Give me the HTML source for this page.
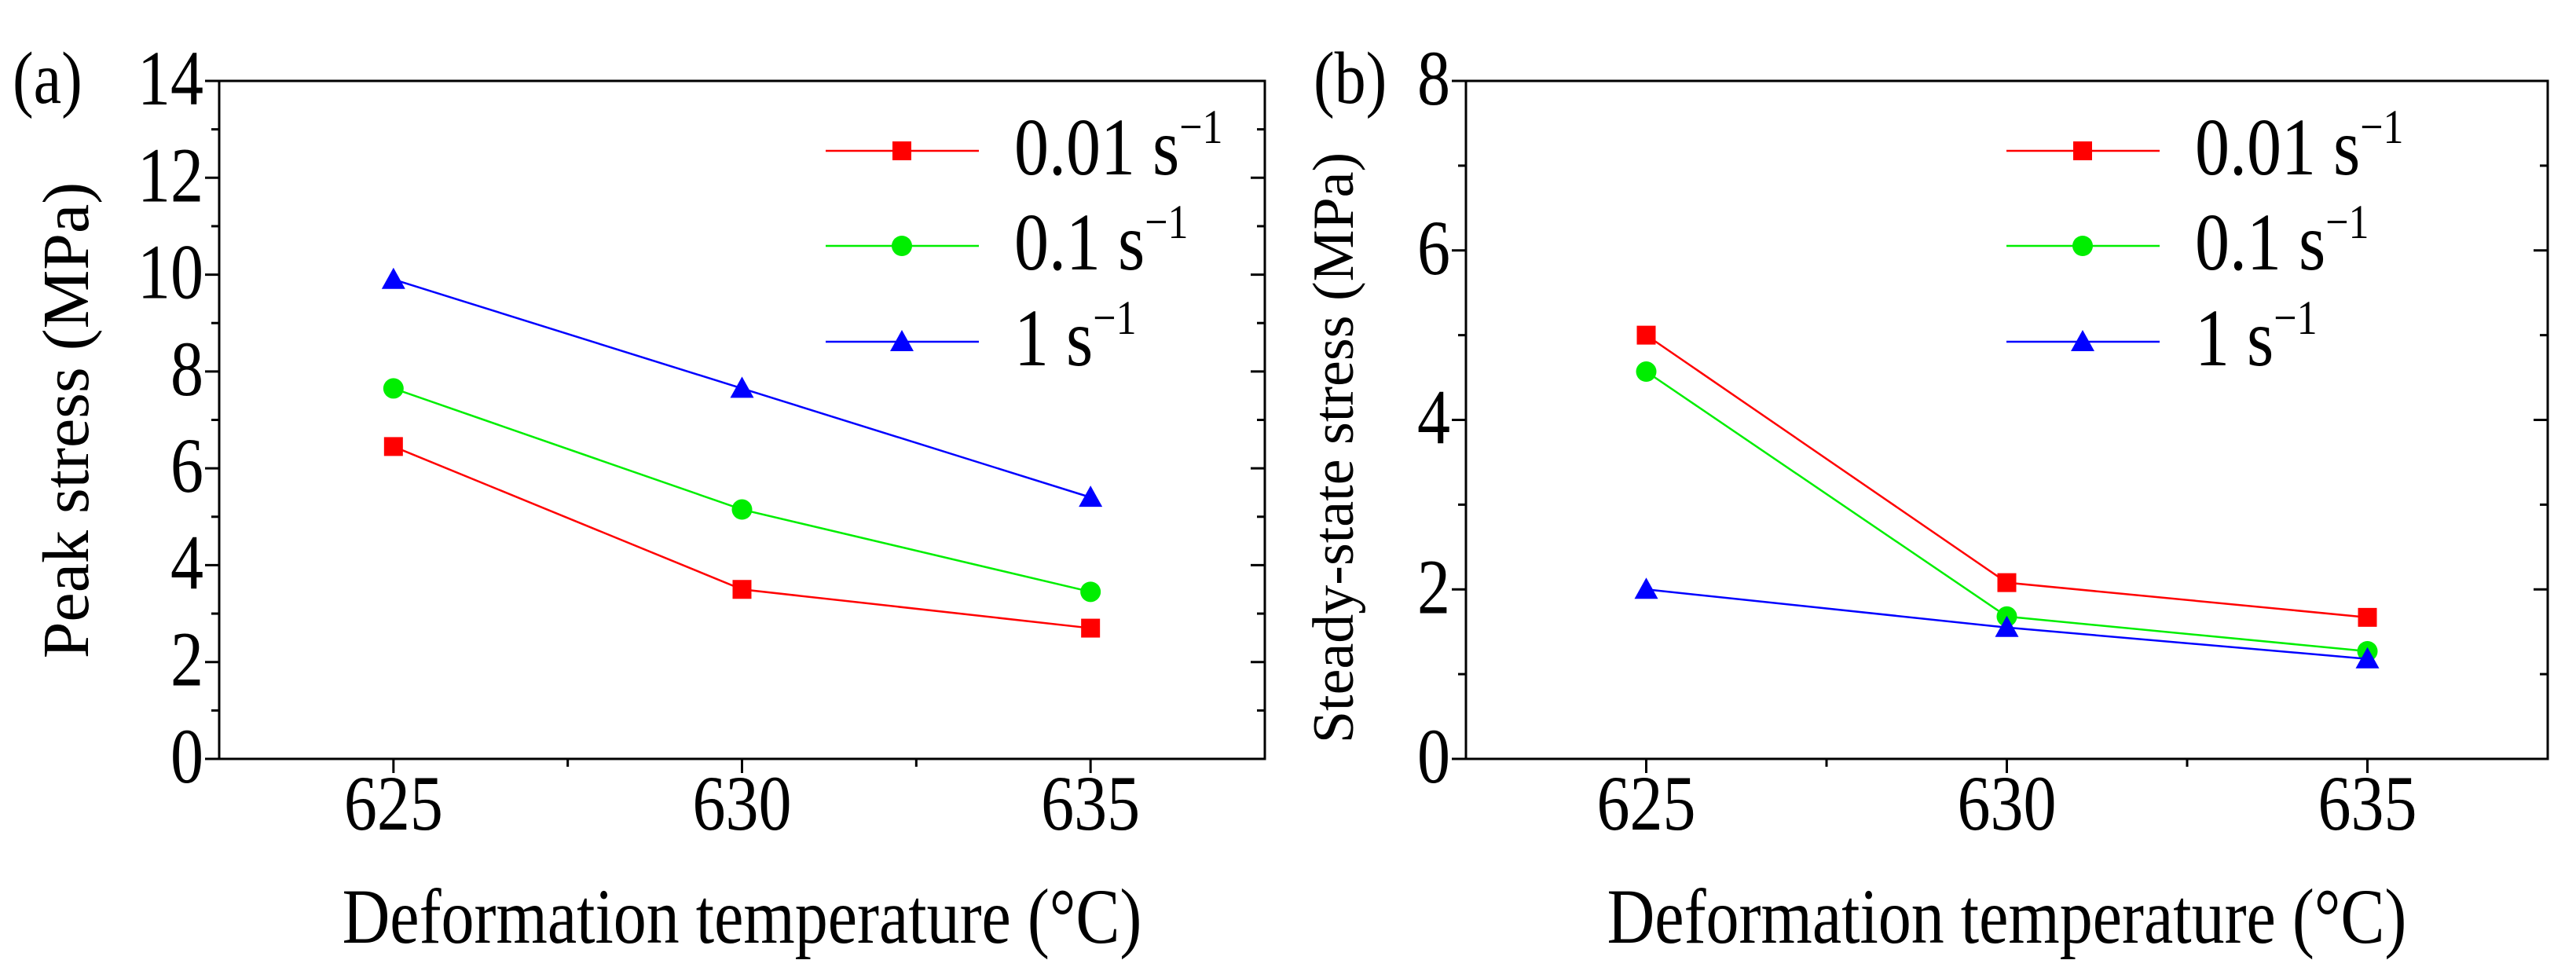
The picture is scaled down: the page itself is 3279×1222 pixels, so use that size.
<!DOCTYPE html>
<html><head><meta charset="utf-8"><style>
body{margin:0;background:#fff}
svg{display:block}
text{font-family:"Liberation Serif","Times New Roman","Nimbus Roman",serif}
</style></head><body>
<svg id="c" width="3279" height="1222" viewBox="0 0 3279 1222"></svg>
<script>
const temps=[625,630,635];
const seriesNames=["0.01 s","0.1 s","1 s"];
const peakRed=[6.45,3.5,2.7];
const peakGreen=[7.65,5.15,3.45];
const peakBlue=[9.9,7.65,5.4];
const steadyRed=[5.0,2.08,1.67];
const steadyGreen=[4.57,1.68,1.27];
const steadyBlue=[2.0,1.55,1.18];
const peakTicks=[0,2,4,6,8,10,12,14];
const steadyTicks=[0,2,4,6,8];
const colors=["#ff0000","#00ee00","#0000ff"];
const NS="http://www.w3.org/2000/svg";
const svg=document.getElementById('c');
function mk(tag,attrs,parent,text){const e=document.createElementNS(NS,tag);for(const k in attrs)e.setAttribute(k,attrs[k]);if(text!==undefined)e.textContent=text;(parent||svg).appendChild(e);return e;}
function txt(parent,x,y,size,anchor,s,rot){
 const tr=rot?`translate(${x},${y}) rotate(-90)`:`translate(${x},${y}) scale(1,1.18)`;
 return mk('text',{x:0,y:0,'font-size':size,'text-anchor':anchor,transform:tr},parent,s);
}
function panel(opt){
 const g=mk('g',{});
 
 
 const {L,R,T,B,ymax,yticks}=opt;
 const xs=v=>L+(v-622.5)/15*(R-L);
 const ys=v=>B-v/ymax*(B-T);
 const frame=mk('rect',{x:L,y:T,width:R-L,height:B-T,fill:'none',stroke:'#000','stroke-width':3},g);
 
 
 for(let v=0;v<=ymax;v+=yticks[1]/2){
  const major=yticks.includes(v);
  const len=major?18:10;
  mk('line',{x1:L-len,x2:L,y1:ys(v),y2:ys(v),stroke:'#000','stroke-width':3},g);
  mk('line',{x1:R,x2:R-len,y1:ys(v),y2:ys(v),stroke:'#000','stroke-width':3},g);
 }
 yticks.forEach(v=>{
  const t=txt(g,L-20,ys(v)+30,84,'end',String(v));
  
  
 });
 for(let v=625;v<=635;v+=2.5){
  const major=temps.includes(v);
  mk('line',{x1:xs(v),x2:xs(v),y1:B,y2:B+(major?18:10),stroke:'#000','stroke-width':3},g);
 }
 temps.forEach(v=>{
  const t=txt(g,xs(v),B+90,84,'middle',String(v));
  
  
 });
 const xt=txt(g,(L+R)/2,1200,84,'middle','Deformation temperature (°C)');
 
 
 const yt=txt(g,opt.ytx,opt.ytc,opt.yts,'middle',opt.ytitle,true);
 
 
 const pl=txt(g,opt.plx,T+28,80,'start',opt.plabel);
 
 
 function marker(i,x,y,parent){
  if(i===0)return mk('rect',{x:x-12,y:y-12,width:24,height:24,fill:colors[0]},parent);
  if(i===1)return mk('circle',{cx:x,cy:y,r:13,fill:colors[1]},parent);
  return mk('polygon',{points:`${x},${y-15} ${x-15},${y+12} ${x+15},${y+12}`,fill:colors[2]},parent);
 }
 opt.data.forEach((d,i)=>{
  const pts=temps.map((t,j)=>xs(t)+','+ys(d[j])).join(' ');
  const l=mk('polyline',{points:pts,fill:'none',stroke:colors[i],'stroke-width':2.5},g);
  
  
  temps.forEach((t,j)=>{const m=marker(i,xs(t),ys(d[j]),g);
   
   });
 });
 const lg=mk('g',{},g);
 
 
 const ly=[192,313,435];
 seriesNames.forEach((n,i)=>{
  const e=mk('g',{},lg);
  
  
  mk('line',{x1:opt.lx,x2:opt.lx+195,y1:ly[i],y2:ly[i],stroke:colors[i],'stroke-width':2.5},e);
  marker(i,opt.lx+97,ly[i],e);
  const t=txt(e,opt.lx+240,ly[i]+30,88,'start',n);
  mk('tspan',{dy:-34,'font-size':52},t,'−1');
 });
}
panel({name:'peak-stress-chart',L:279,R:1610,T:103,B:966,ymax:14,yticks:peakTicks,ytitle:'Peak stress (MPa)',ytx:112,ytc:535,yts:84,plx:16,plabel:'(a)',lx:1051,data:[peakRed,peakGreen,peakBlue]});
panel({name:'steady-state-stress-chart',L:1866,R:3243,T:103,B:966,ymax:8,yticks:steadyTicks,ytitle:'Steady-state stress (MPa)',ytx:1722,ytc:570,yts:74,plx:1672,plabel:'(b)',lx:2554,data:[steadyRed,steadyGreen,steadyBlue]});
</script>
</body></html>
